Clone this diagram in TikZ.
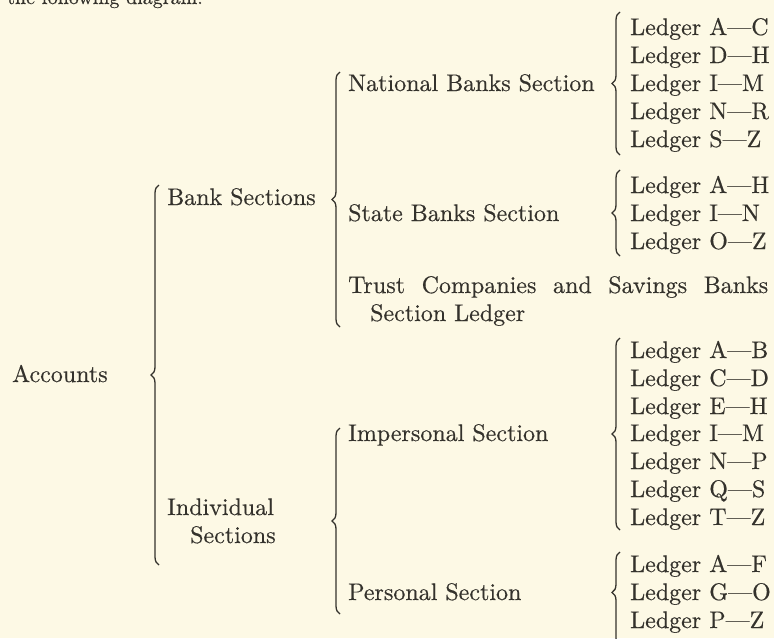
\documentclass[tikz,border=0pt]{standalone}
\usepackage{fontspec}
\setmainfont{lmroman10-regular.otf}[FakeBold=0.4]
\usetikzlibrary{decorations.pathreplacing}
\definecolor{paper}{RGB}{253,249,229}
\definecolor{ink}{RGB}{52,50,44}

\begin{document}
\begin{tikzpicture}[x=1pt, y=-1pt,
  every node/.style={anchor=base west, inner sep=0pt, text=ink, font=\fontsize{24}{28}\selectfont},
  curly/.style={draw=ink, line width=1.3pt, decorate, decoration={brace, amplitude=8pt, aspect=#1}},
  curly/.default=0.5]
  \fill[paper] (0,0) rectangle (774,638);
  \useasboundingbox (0,0) rectangle (774,638);

  % left part of the tree
  \node[font=\fontsize{20}{24}\selectfont] (intro) at (7,4) {the following diagram:};
  \node (acc)   at (12,382)  {Accounts};
  \node (bank)  at (167,205) {Bank Sections};
  \node (ind)   at (167,515) {Individual};
  \node (ind2)  at (190,543) {Sections};

  % middle column
  \node (nat)    at (348,91)  {National Banks Section};
  \node (state)  at (348,221) {State Banks Section};
  \node (trust)  at (348,293) {\makebox[420pt][s]{Trust Companies and Savings Banks}};
  \node (trust2) at (370,321) {Section Ledger};
  \node (imp)    at (348,441) {Impersonal Section};
  \node (pers)   at (348,600) {Personal Section};

  % ledgers
  \node (n1) at (630,35)  {Ledger A\textemdash C};
  \node (n2) at (630,63)  {Ledger D\textemdash H};
  \node (n3) at (630,91)  {Ledger I\textemdash M};
  \node (n4) at (630,119) {Ledger N\textemdash R};
  \node (n5) at (630,147) {Ledger S\textemdash Z};
  \node (s1) at (630,193) {Ledger A\textemdash H};
  \node (s2) at (630,221) {Ledger I\textemdash N};
  \node (s3) at (630,249) {Ledger O\textemdash Z};
  \node (i1) at (630,358) {Ledger A\textemdash B};
  \node (i2) at (630,386) {Ledger C\textemdash D};
  \node (i3) at (630,414) {Ledger E\textemdash H};
  \node (i4) at (630,441) {Ledger I\textemdash M};
  \node (i5) at (630,469) {Ledger N\textemdash P};
  \node (i6) at (630,497) {Ledger Q\textemdash S};
  \node (i7) at (630,525) {Ledger T\textemdash Z};
  \node (p1) at (630,572) {Ledger A\textemdash F};
  \node (p2) at (630,600) {Ledger G\textemdash O};
  \node (p3) at (630,628) {Ledger P\textemdash Z};

  % brace ends
  \coordinate (accB)   at (159,565); \coordinate (accT)   at (159,185);
  \coordinate (bankB)  at (340,327); \coordinate (bankT)  at (340,72);
  \coordinate (indB)   at (340,614); \coordinate (indT)   at (340,428);
  \coordinate (natB)   at (620,155); \coordinate (natT)   at (620,12);
  \coordinate (stateB) at (620,256); \coordinate (stateT) at (620,170);
  \coordinate (impB)   at (620,530); \coordinate (impT)   at (620,338);
  \coordinate (persB)  at (620,646); \coordinate (persT)  at (620,552);

  \draw[curly] (accB) -- (accT);
  \draw[curly] (bankB) -- (bankT);
  \draw[curly] (indB) -- (indT);
  \draw[curly] (natB) -- (natT);
  \draw[curly] (stateB) -- (stateT);
  \draw[curly] (impB) -- (impT);
  \draw[curly=0.57] (persB) -- (persT);
\end{tikzpicture}
\end{document}
